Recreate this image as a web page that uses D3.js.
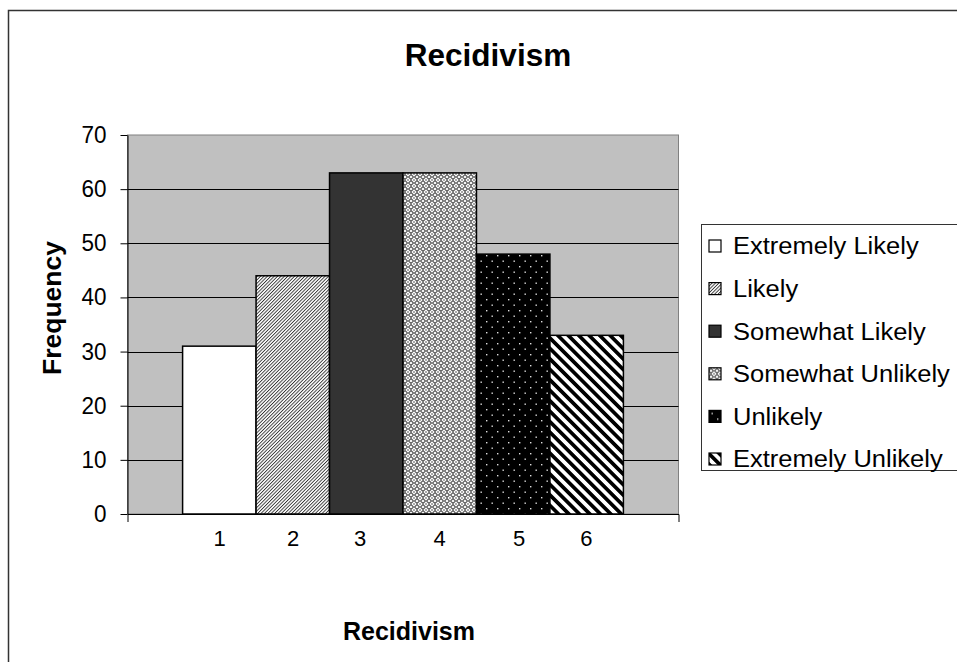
<!DOCTYPE html>
<html><head><meta charset="utf-8">
<script src="https://cdn.jsdelivr.net/npm/d3@7"></script>
<style>
body{margin:0;background:#fff}
svg{display:block}
text{font-family:"Liberation Sans",Arial,sans-serif;fill:#000}
</style>
</head><body><svg id="c" width="957" height="662"></svg>
<script>
const chartTitle = "Recidivism";
const xTitle = "Recidivism";
const yTitle = "Frequency";
const categories = ["1          2         3           4           5         6"];
const seriesNames = ["Extremely Likely","Likely","Somewhat Likely","Somewhat Unlikely","Unlikely","Extremely Unlikely"];
const seriesValues = [31,44,63,63,48,33];
const yTicks = [0,10,20,30,40,50,60,70];
const seriesFills = ["#ffffff","url(#p2)","#333333","url(#p4)","url(#p5)","url(#p6)"];

const svg = d3.select("#c");
const defs = svg.append("defs");

function stretch(sel, sy){
  sel.each(function(){
    const t = d3.select(this);
    const x = +t.attr("x") || 0, yv = +t.attr("y") || 0;
    t.attr("x",0).attr("y",0).attr("transform",`translate(${x},${yv}) scale(1,${sy})`);
  });
}

// pattern: fine upward diagonal
const p2 = defs.append("pattern").attr("id","p2").attr("patternUnits","userSpaceOnUse")
  .attr("width",2.4).attr("height",10).attr("patternTransform","rotate(45)");
p2.append("rect").attr("width",2.4).attr("height",10).attr("fill","#fff");
p2.append("rect").attr("width",0.9).attr("height",10).attr("fill","#333");

// pattern: small diamonds / checker weave
const p4 = defs.append("pattern").attr("id","p4").attr("patternUnits","userSpaceOnUse")
  .attr("width",6).attr("height",6);
p4.append("rect").attr("width",6).attr("height",6).attr("fill","#fff");
p4.append("path").attr("d","M3,0.5 L5.5,3 L3,5.5 L0.5,3 Z").attr("fill","none").attr("stroke","#555").attr("stroke-width",1.1);
p4.append("path").attr("d","M0,0 L1,0 L0,1 Z M6,0 L5,0 L6,1 Z M0,6 L1,6 L0,5 Z M6,6 L5,6 L6,5 Z").attr("fill","#555");

// pattern: black with white dots
const p5 = defs.append("pattern").attr("id","p5").attr("patternUnits","userSpaceOnUse")
  .attr("width",11).attr("height",11);
p5.append("rect").attr("width",11).attr("height",11).attr("fill","#000");
p5.append("rect").attr("x",2).attr("y",2).attr("width",1.4).attr("height",1.4).attr("fill","#ddd");
p5.append("rect").attr("x",7.5).attr("y",7.5).attr("width",1.4).attr("height",1.4).attr("fill","#ddd");

// pattern: wide downward diagonal
const p6 = defs.append("pattern").attr("id","p6").attr("patternUnits","userSpaceOnUse")
  .attr("width",7.4).attr("height",10).attr("patternTransform","rotate(-45)");
p6.append("rect").attr("width",7.4).attr("height",10).attr("fill","#fff");
p6.append("rect").attr("width",3.7).attr("height",10).attr("fill","#000");

// outer chart border
svg.append("rect").attr("x",8.5).attr("y",10.5).attr("width",1000).attr("height",1000)
  .attr("fill","#fff").attr("stroke","#333").attr("stroke-width",1.5);

const plot = {left:127.5, right:678.5, top:135, bottom:514};

const y = d3.scaleLinear().domain([0,70]).range([plot.bottom, plot.top]);
const x0 = d3.scaleBand().domain(categories).range([plot.left, plot.right]).paddingInner(0.2).paddingOuter(0.1);
const x1 = d3.scaleBand().domain(seriesNames).range([0, x0.bandwidth()]);

// plot area
svg.append("rect").attr("x",plot.left).attr("y",plot.top)
  .attr("width",plot.right-plot.left).attr("height",plot.bottom-plot.top)
  .attr("fill","#c0c0c0").attr("stroke","#808080").attr("stroke-width",1);

// gridlines
svg.append("g").selectAll("line").data(yTicks.filter(d=>d>0 && d<70)).join("line")
  .attr("x1",plot.left).attr("x2",plot.right)
  .attr("y1",d=>Math.round(y(d))+0.5).attr("y2",d=>Math.round(y(d))+0.5)
  .attr("stroke","#000").attr("stroke-width",1);

// bars
const g = svg.append("g");
categories.forEach(cat=>{
  g.selectAll("rect.bar").data(seriesNames.map((s,i)=>({s, v:seriesValues[i], f:seriesFills[i]}))).join("rect")
    .attr("class","bar")
    .attr("x",d=>x0(cat)+x1(d.s))
    .attr("y",d=>y(d.v))
    .attr("width",x1.bandwidth())
    .attr("height",d=>y(0)-y(d.v))
    .attr("fill",d=>d.f)
    .attr("stroke","#000").attr("stroke-width",1.5);
});

// y axis
const yAxis = svg.append("g").attr("transform",`translate(${plot.left},0)`)
  .call(d3.axisLeft(y).tickValues(yTicks).tickSize(7).tickSizeOuter(0).tickPadding(14));
yAxis.select(".domain").attr("stroke","#000");
yAxis.selectAll(".tick line").attr("stroke","#000");
yAxis.selectAll(".tick text").style("font-size","22.5px").attr("fill","#000");
stretch(yAxis.selectAll(".tick text"), 1.04);

// x axis
const xAxis = svg.append("g").attr("transform",`translate(0,${plot.bottom})`)
  .call(d3.axisBottom(x0).tickSize(0).tickSizeOuter(8).tickPadding(16));
xAxis.select(".domain").attr("stroke","#000");
xAxis.selectAll(".tick text").style("font-size","22px").style("white-space","pre").attr("fill","#000");
stretch(xAxis.selectAll(".tick text"), 1.04);

// titles
svg.append("text").attr("x",488).attr("y",66).attr("text-anchor","middle")
  .style("font-size","31.5px").style("font-weight","bold").text(chartTitle);
svg.append("text").attr("x",409).attr("y",640).attr("text-anchor","middle")
  .style("font-size","25px").style("font-weight","bold").text(xTitle);
svg.append("text").attr("transform","translate(61,308) rotate(-90)").attr("text-anchor","middle")
  .style("font-size","26.5px").style("font-weight","bold").text(yTitle);

// legend
const lg = svg.append("g");
lg.append("rect").attr("x",701.5).attr("y",224.5).attr("width",300).attr("height",246)
  .attr("fill","#fff").attr("stroke","#333").attr("stroke-width",1);
const items = lg.selectAll("g.item").data(seriesNames.map((s,i)=>({s,f:seriesFills[i]}))).join("g")
  .attr("class","item").attr("transform",(d,i)=>`translate(0,${246+i*42.6})`);
items.append("rect").attr("x",709).attr("y",-6).attr("width",12).attr("height",12)
  .attr("fill",d=>d.f).attr("stroke","#000").attr("stroke-width",1.2);
const lt = items.append("text").attr("x",733).attr("y",0).attr("dy","0.36em")
  .style("font-size","25.5px").text(d=>d.s);
stretch(lt, 0.92);
</script></body></html>
